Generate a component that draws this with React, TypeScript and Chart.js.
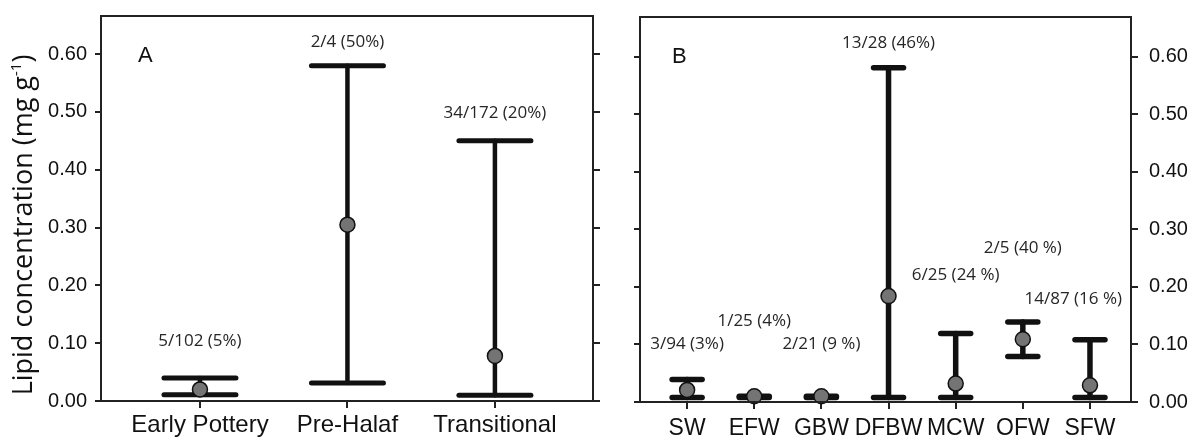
import React, { useEffect, useRef } from "react";
import { Chart, registerables } from "chart.js";

Chart.register(...registerables);

// ---------- Data ----------
const categoriesA = ["Early Pottery", "Pre-Halaf", "Transitional"];
const meanA = [0.02, 0.305, 0.078];
const lowerA = [0.011, 0.031, 0.01];
const upperA = [0.04, 0.58, 0.45];
const countLabelsA = ["5/102 (5%)", "2/4 (50%)", "34/172 (20%)"];
const countLabelLevelA = [0.103, 0.621, 0.498];

const categoriesB = ["SW", "EFW", "GBW", "DFBW", "MCW", "OFW", "SFW"];
const meanB = [0.021, 0.01, 0.01, 0.184, 0.032, 0.109, 0.029];
const lowerB = [0.008, 0.008, 0.008, 0.008, 0.008, 0.079, 0.008];
const upperB = [0.039, 0.01, 0.01, 0.581, 0.119, 0.139, 0.108];
const countLabelsB = [
  "3/94 (3%)",
  "1/25 (4%)",
  "2/21 (9 %)",
  "13/28 (46%)",
  "6/25 (24 %)",
  "2/5 (40 %)",
  "14/87 (16 %)",
];
const countLabelLevelB = [0.101, 0.14, 0.101, 0.624, 0.22, 0.268, 0.178];

const yTickValues = [0, 0.1, 0.2, 0.3, 0.4, 0.5, 0.6];

// ---------- Styling ----------
const INK = "#111111";
const AXIS = "#222222";
const SANS = "'Liberation Sans', Arial, Helvetica, sans-serif";
const OPEN = "'Open Sans', 'Liberation Sans', sans-serif";

type PanelSpec = {
  letter: string;
  letterDx: number;
  categories: string[];
  mean: number[];
  lower: number[];
  upper: number[];
  countLabels: string[];
  countLevels: number[];
  xMin: number;
  xMax: number;
  yMax: number;
  top: number;
  bottomH: number;
  leftW: number;
  rightW: number;
  leftLabels: boolean;
  rightLabels: boolean;
  xLabelPad: number;
  xLabelSize: number;
  capHalf: number;
  stemW: number;
  capW: number;
  withTitle: boolean;
};

function makeConfig(p: PanelSpec): any {
  const xs = p.categories.map((_, i) => i + 1);

  const whiskerPlugin = {
    id: "whiskers",
    beforeDatasetsDraw(chart: any) {
      const ctx = chart.ctx;
      const xS = chart.scales.x;
      const yS = chart.scales.y;
      ctx.save();
      ctx.strokeStyle = INK;
      ctx.lineCap = "round";
      xs.forEach((xv, i) => {
        const x = xS.getPixelForValue(xv);
        const yl = yS.getPixelForValue(p.lower[i]);
        const yh = yS.getPixelForValue(p.upper[i]);
        ctx.lineWidth = p.stemW;
        ctx.beginPath();
        ctx.moveTo(x, yl);
        ctx.lineTo(x, yh);
        ctx.stroke();
        ctx.lineWidth = p.capW;
        [yl, yh].forEach((yy) => {
          ctx.beginPath();
          ctx.moveTo(x - p.capHalf, yy);
          ctx.lineTo(x + p.capHalf, yy);
          ctx.stroke();
        });
      });
      ctx.restore();
    },
  };

  const annotPlugin = {
    id: "annot",
    afterDraw(chart: any) {
      const ctx = chart.ctx;
      const area = chart.chartArea;
      const xS = chart.scales.x;
      const yS = chart.scales.y;
      ctx.save();
      // frame
      ctx.strokeStyle = AXIS;
      ctx.lineWidth = 2;
      ctx.strokeRect(area.left, area.top, area.right - area.left, area.bottom - area.top);
      // count labels
      ctx.font = `17px ${OPEN}`;
      ctx.fillStyle = "#262626";
      ctx.textAlign = "center";
      ctx.textBaseline = "middle";
      xs.forEach((xv, i) => {
        let x = xS.getPixelForValue(xv);
        const w = ctx.measureText(p.countLabels[i]).width;
        if (x + w / 2 > area.right - 9) x = area.right - 9 - w / 2;
        ctx.fillText(p.countLabels[i], x, yS.getPixelForValue(p.countLevels[i]));
      });
      // panel letter
      ctx.font = `22px ${SANS}`;
      ctx.fillStyle = INK;
      ctx.textAlign = "left";
      ctx.textBaseline = "alphabetic";
      ctx.fillText(p.letter, area.left + p.letterDx, area.top + 46);
      // y title
      if (p.withTitle) {
        const main = `27px ${OPEN}`;
        const sup = `15px ${OPEN}`;
        const t1 = "Lipid concentration (mg g";
        const t2 = "-1";
        const t3 = ")";
        ctx.font = main;
        const w1 = ctx.measureText(t1).width;
        const w3 = ctx.measureText(t3).width;
        ctx.font = sup;
        const w2 = ctx.measureText(t2).width;
        const total = w1 + w2 + w3;
        ctx.translate(32, 225);
        ctx.rotate(-Math.PI / 2);
        ctx.fillStyle = INK;
        const s = -total / 2;
        ctx.font = main;
        ctx.fillText(t1, s, 0);
        ctx.font = sup;
        ctx.fillText(t2, s + w1, -11);
        ctx.font = main;
        ctx.fillText(t3, s + w1 + w2, 0);
      }
      ctx.restore();
    },
  };

  const yAxis = (position: "left" | "right", showLabels: boolean, width: number) => ({
    type: "linear",
    position,
    min: 0,
    max: p.yMax,
    afterBuildTicks: (s: any) => {
      s.ticks = yTickValues.map((v) => ({ value: v }));
    },
    ticks: {
      display: showLabels,
      callback: (v: any) => Number(v).toFixed(2),
      font: { family: SANS, size: 20 },
      color: INK,
      padding: position === "left" ? 8 : 11,
    },
    grid: {
      drawOnChartArea: false,
      drawTicks: true,
      tickLength: position === "left" ? 6 : 7,
      lineWidth: 2,
      color: AXIS,
    },
    border: { display: false },
    afterFit: (s: any) => {
      s.width = width;
      s.paddingTop = 0;
      s.paddingBottom = 0;
    },
  });

  return {
    type: "scatter",
    data: {
      datasets: [
        {
          data: xs.map((x, i) => ({ x, y: p.mean[i] })),
          pointRadius: 7.5,
          pointHoverRadius: 7.5,
          pointBorderWidth: 1.5,
          pointBackgroundColor: "#747474",
          pointBorderColor: INK,
          showLine: false,
          clip: false,
        },
      ],
    },
    options: {
      responsive: false,
      animation: false,
      events: [],
      layout: { padding: { top: p.top, left: 0, right: 0, bottom: 0 } },
      plugins: { legend: { display: false }, tooltip: { enabled: false } },
      scales: {
        x: {
          type: "linear",
          position: "bottom",
          min: p.xMin,
          max: p.xMax,
          afterBuildTicks: (s: any) => {
            s.ticks = xs.map((v) => ({ value: v }));
          },
          ticks: {
            callback: (_v: any, idx: number) => p.categories[idx] ?? "",
            font: { family: SANS, size: p.xLabelSize },
            color: INK,
            padding: p.xLabelPad,
            maxRotation: 0,
            autoSkip: false,
          },
          grid: {
            drawOnChartArea: false,
            drawTicks: true,
            tickLength: 7,
            lineWidth: 2,
            color: AXIS,
          },
          border: { display: false },
          afterFit: (s: any) => {
            s.height = p.bottomH;
            s.paddingLeft = 0;
            s.paddingRight = 0;
          },
        },
        y: yAxis("left", p.leftLabels, p.leftW),
        y2: yAxis("right", p.rightLabels, p.rightW),
      },
    },
    plugins: [whiskerPlugin, annotPlugin],
  };
}

const panelA: PanelSpec = {
  letter: "A",
  letterDx: 37,
  categories: categoriesA,
  mean: meanA,
  lower: lowerA,
  upper: upperA,
  countLabels: countLabelsA,
  countLevels: countLabelLevelA,
  xMin: 0.329,
  xMax: 3.665,
  yMax: 0.666,
  top: 16,
  bottomH: 38,
  leftW: 101,
  rightW: 27,
  leftLabels: true,
  rightLabels: false,
  xLabelPad: 3,
  xLabelSize: 24,
  capHalf: 36,
  stemW: 4.5,
  capW: 5,
  withTitle: true,
};

const panelB: PanelSpec = {
  letter: "B",
  letterDx: 32,
  categories: categoriesB,
  mean: meanB,
  lower: lowerB,
  upper: upperB,
  countLabels: countLabelsB,
  countLevels: countLabelLevelB,
  xMin: 0.2985,
  xMax: 7.611,
  yMax: 0.669,
  top: 17,
  bottomH: 37,
  leftW: 20,
  rightW: 61,
  leftLabels: false,
  rightLabels: true,
  xLabelPad: 6,
  xLabelSize: 23,
  capHalf: 15,
  stemW: 5.5,
  capW: 5.5,
  withTitle: false,
};

function Panel({ spec, left, width }: { spec: PanelSpec; left: number; width: number }) {
  const ref = useRef<HTMLCanvasElement | null>(null);
  useEffect(() => {
    if (!ref.current) return;
    const chart = new Chart(ref.current, makeConfig(spec));
    return () => chart.destroy();
  }, [spec]);
  return (
    <canvas
      ref={ref}
      width={width}
      height={439}
      style={{ position: "absolute", left, top: 0, width, height: 439 }}
    />
  );
}

export default function App() {
  return (
    <div
      style={{
        position: "absolute",
        left: 0,
        top: 0,
        width: 1192,
        height: 439,
        background: "#ffffff",
        overflow: "hidden",
      }}
    >
      <Panel spec={panelA} left={0} width={620} />
      <Panel spec={panelB} left={620} width={572} />
    </div>
  );
}
